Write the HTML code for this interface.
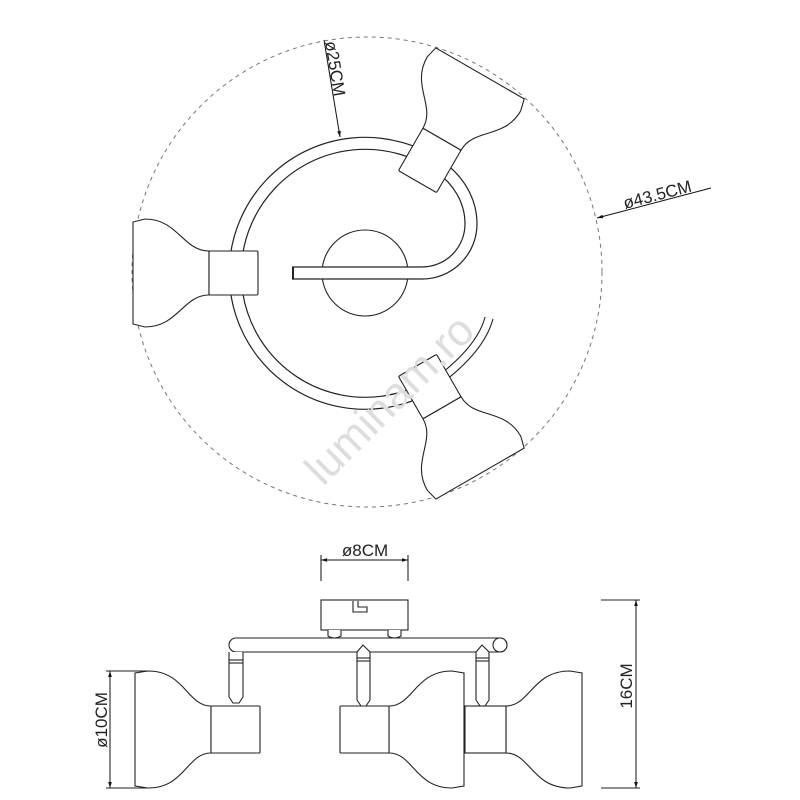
<!DOCTYPE html>
<html><head><meta charset="utf-8"><style>html,body{margin:0;padding:0;background:#fff}svg{display:block}</style></head>
<body>
<svg width="800" height="800" viewBox="0 0 800 800" xmlns="http://www.w3.org/2000/svg" font-family="Liberation Sans, sans-serif">
<defs>
<g id="lamp">
<path d="M-24,-22 C-50,-22 -55,-54 -88,-54 L-100,-51 L-100,51 L-88,54 C-55,54 -50,22 -24,22 Z" fill="#fff" stroke="#222" stroke-width="1.1"/>
<rect x="-24" y="-22" width="49" height="44" rx="1.5" fill="#fff" stroke="#222" stroke-width="1.1"/>
</g>
<marker id="ar" viewBox="0 0 10 10" refX="10" refY="5" markerWidth="10" markerHeight="6" orient="auto-start-reverse" markerUnits="userSpaceOnUse"><path d="M0,2 L10,5 L0,8 Z" fill="#111"/></marker>
</defs>

<!-- dashed outer circle -->
<circle cx="367" cy="272" r="235" fill="none" stroke="#777" stroke-width="1" stroke-dasharray="4,4"/>

<!-- center circle -->
<circle cx="365" cy="273" r="43" fill="#fff" stroke="#222" stroke-width="1.1"/>

<!-- ring tube -->
<g fill="none" stroke-linecap="butt">
<path d="M292,273 L422,273 A49,49 0 0 0 471,224 C471,200 458,180 440,167 A130,130 0 1 0 430,386" stroke="#222" stroke-width="13.2"/>
<path d="M292,273 L422,273 A49,49 0 0 0 471,224 C471,200 458,180 440,167 A130,130 0 1 0 430,386" stroke="#fff" stroke-width="10.8"/>
<path d="M428,388 C455,370 482,345 489,318" stroke="#222" stroke-width="9.2"/>
<path d="M428,388 C455,370 482,345 489,318" stroke="#fff" stroke-width="7"/>
</g>
<rect x="292" y="267" width="2" height="12" fill="#222"/>

<!-- lamps top view -->
<use href="#lamp" transform="translate(233,273)"/>
<use href="#lamp" transform="translate(430,160) rotate(120)"/>
<use href="#lamp" transform="translate(430,387) rotate(-120)"/>

<!-- ø25CM dimension -->
<line x1="324" y1="40" x2="340" y2="137" stroke="#111" stroke-width="1" marker-end="url(#ar)"/>
<text transform="translate(325,42) rotate(80.6)" font-size="17" fill="#222">ø25CM</text>

<!-- ø43.5CM dimension -->
<line x1="711" y1="188" x2="597" y2="218" stroke="#111" stroke-width="1" marker-end="url(#ar)"/>
<text transform="translate(625,209) rotate(-14.7)" font-size="17" fill="#222">ø43.5CM</text>

<!-- watermark -->
<text transform="translate(400,410) rotate(-45)" font-size="44" fill="#ddd" text-anchor="middle">luminam.ro</text>

<!-- ================= side view ================= -->
<g stroke="#222" stroke-width="1.1" fill="#fff">
<!-- ø8 dim -->
<line x1="321" y1="555" x2="321" y2="581" fill="none"/>
<line x1="408" y1="555" x2="408" y2="581" fill="none"/>
<line x1="321" y1="560" x2="408" y2="560" stroke="#111" stroke-width="1" marker-start="url(#ar)" marker-end="url(#ar)"/>

<!-- canopy -->
<rect x="321" y="600" width="87" height="30"/>
<path d="M353,601 L353,612 L367,612 L367,607 L358,607 L358,601" fill="none"/>
<path d="M328,630 L328,636 Q334,640 341,636 L341,630" />
<path d="M388,630 L388,636 Q394,640 401,636 L401,630" />

<!-- bar -->
<path d="M236,638 L500,638 A7,7 0 0 1 500,652 L236,652 A7,7 0 0 1 236,638 Z"/>
<circle cx="500" cy="645" r="7"/>

<!-- stems -->
<path d="M229,652 L229,697 L233,703 L239,703 L243,697 L243,652" />
<line x1="229" y1="660" x2="243" y2="660"/>
<line x1="229" y1="663" x2="243" y2="663"/>
<path d="M357,700 L357,652 L363,645 L370,652 L370,700 L366,706 L361,706 Z"/>
<line x1="357" y1="658" x2="370" y2="658"/>
<line x1="357" y1="661" x2="370" y2="661"/>
<path d="M476,700 L476,652 L482,645 L489,652 L489,700 L485,706 L480,706 Z"/>
<line x1="476" y1="658" x2="489" y2="658"/>
<line x1="476" y1="661" x2="489" y2="661"/>

<!-- right lamp (behind) -->
<path d="M506,706 C530,706 532,671 570,671 L582,673 L582,786 L570,788 C532,788 530,753 506,753 Z"/>
<rect x="465" y="706" width="41" height="47"/>
<!-- middle lamp -->
<path d="M389,706 C413,706 415,671 452,671 L464,673 L464,786 L452,788 C415,788 413,753 389,753 Z"/>
<rect x="340" y="706" width="49" height="47" rx="1"/>
<!-- left lamp -->
<path d="M211,706 C187,706 185,671 148,671 L135,673 L135,786 L148,788 C185,788 187,753 211,753 Z"/>
<rect x="211" y="706" width="49" height="47" rx="1"/>

<!-- ø10 dim -->
<line x1="106" y1="671" x2="150" y2="671" fill="none"/>
<line x1="106" y1="788" x2="150" y2="788" fill="none"/>
<line x1="110" y1="671" x2="110" y2="788" stroke="#111" stroke-width="1" marker-start="url(#ar)" marker-end="url(#ar)"/>

<!-- 16 dim -->
<line x1="601" y1="600" x2="640" y2="600" fill="none"/>
<line x1="601" y1="788" x2="640" y2="788" fill="none"/>
<line x1="636" y1="600" x2="636" y2="788" stroke="#111" stroke-width="1" marker-start="url(#ar)" marker-end="url(#ar)"/>
</g>

<text x="365" y="556" font-size="17" fill="#222" text-anchor="middle">ø8CM</text>
<text transform="translate(107,720) rotate(-90)" font-size="17" fill="#222" text-anchor="middle">ø10CM</text>
<text transform="translate(632,686) rotate(-90)" font-size="17" fill="#222" text-anchor="middle">16CM</text>
</svg>
</body></html>
